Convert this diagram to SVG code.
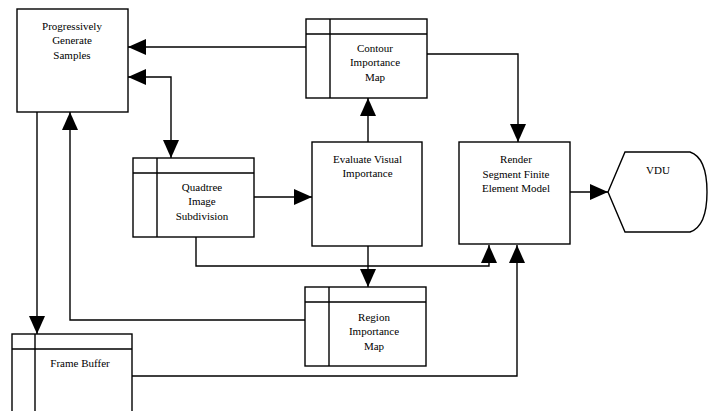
<svg xmlns="http://www.w3.org/2000/svg" width="725" height="411" viewBox="0 0 725 411">
<style>
.box{fill:#fff;stroke:#000;stroke-width:1.4}
.ln{fill:none;stroke:#000;stroke-width:1.4}
.c{fill:none;stroke:#000;stroke-width:1.4;marker-end:url(#ah)}
.t{font-family:'Liberation Serif','DejaVu Serif',serif;font-size:11px;fill:#000;text-anchor:middle}
</style>
<defs>
<marker id="ah" markerUnits="userSpaceOnUse" markerWidth="18" markerHeight="16" refX="18" refY="8" orient="auto">
<path d="M0,0 L18,8 L0,16 z" fill="#000"/>
</marker>
<marker id="as" markerUnits="userSpaceOnUse" markerWidth="18" markerHeight="16" refX="0" refY="8" orient="auto">
<path d="M18,0 L0,8 L18,16 z" fill="#000"/>
</marker>
</defs>
<rect width="725" height="411" fill="#fff"/>
<g id="connectors">
<path class="c" d="M306,47 H128"/>
<path class="c" d="M128,77 H171 V158" style="marker-start:url(#as)"/>
<path class="c" d="M37,112 V334"/>
<path class="c" d="M305,320 H70 V112"/>
<path class="c" d="M427,54 H518 V142"/>
<path class="c" d="M368,142 V98"/>
<path class="c" d="M254,197 H312"/>
<path class="c" d="M196,237 V266 H489 V245"/>
<path class="c" d="M368,246 V287"/>
<path class="c" d="M132,376 H517 V245"/>
<path class="c" d="M570,192 H608"/>
</g>
<g id="pgs">
<rect class="box" x="17" y="9" width="111" height="103"/>
<text class="t" font-family="Liberation Serif, serif" x="72" y="30">Progressively</text>
<text class="t" font-family="Liberation Serif, serif" x="72" y="44">Generate</text>
<text class="t" font-family="Liberation Serif, serif" x="72" y="59">Samples</text>
</g>
<g id="contour">
<rect class="box" x="306" y="19" width="121" height="79"/>
<path class="ln" d="M306,34 H427 M330,19 V98"/>
<text class="t" font-family="Liberation Serif, serif" x="375" y="52">Contour</text>
<text class="t" font-family="Liberation Serif, serif" x="375" y="66">Importance</text>
<text class="t" font-family="Liberation Serif, serif" x="375" y="81">Map</text>
</g>
<g id="quadtree">
<rect class="box" x="133" y="158" width="121" height="79"/>
<path class="ln" d="M133,173 H254 M157,158 V237"/>
<text class="t" font-family="Liberation Serif, serif" x="202" y="191">Quadtree</text>
<text class="t" font-family="Liberation Serif, serif" x="202" y="205">Image</text>
<text class="t" font-family="Liberation Serif, serif" x="202" y="220">Subdivision</text>
</g>
<g id="evaluate">
<rect class="box" x="312" y="142" width="110" height="104"/>
<text class="t" font-family="Liberation Serif, serif" x="367.5" y="163">Evaluate Visual</text>
<text class="t" font-family="Liberation Serif, serif" x="367.5" y="177">Importance</text>
</g>
<g id="render">
<rect class="box" x="459" y="142" width="111" height="102"/>
<text class="t" font-family="Liberation Serif, serif" x="516" y="163">Render</text>
<text class="t" font-family="Liberation Serif, serif" x="516" y="178">Segment Finite</text>
<text class="t" font-family="Liberation Serif, serif" x="516" y="192">Element Model</text>
</g>
<g id="vdu">
<path class="box" d="M608,192 L625,152 H690 C702,156 707,170 707,192 C707,214 702,228 690,232 H625 Z"/>
<text class="t" font-family="Liberation Serif, serif" x="658" y="174">VDU</text>
</g>
<g id="region">
<rect class="box" x="305" y="287" width="121" height="79"/>
<path class="ln" d="M305,302 H426 M329,287 V366"/>
<text class="t" font-family="Liberation Serif, serif" x="374" y="321">Region</text>
<text class="t" font-family="Liberation Serif, serif" x="374" y="335">Importance</text>
<text class="t" font-family="Liberation Serif, serif" x="374" y="350">Map</text>
</g>
<g id="framebuffer">
<rect class="box" x="12" y="334" width="120" height="90"/>
<path class="ln" d="M12,349 H132 M35,334 V424"/>
<text class="t" font-family="Liberation Serif, serif" x="80" y="367">Frame Buffer</text>
</g>
</svg>
